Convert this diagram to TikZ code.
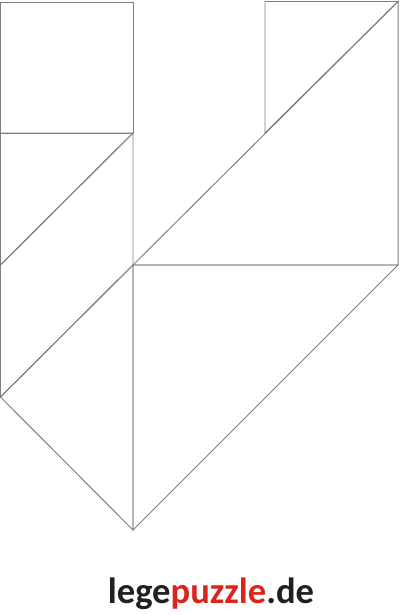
\documentclass[tikz,border=0pt]{standalone}
\usepackage{fontspec}
\setmainfont{Carlito}
\usepackage{xcolor}
\usepackage{tikz}
\definecolor{lineGray}{HTML}{7F7F7F}
\definecolor{logoDark}{HTML}{231F20}
\definecolor{logoRed}{HTML}{D8261E}
\begin{document}
\begin{tikzpicture}[x=0.025cm,y=-0.025cm]
			\tikzstyle{piece} = [draw=lineGray, line width=0.7pt, line join=miter]
			\tikzstyle{logo} = [font=\bfseries\fontsize{26}{26}\selectfont, inner sep=0pt, anchor=base]
			\useasboundingbox (0,0) rectangle (400,615);
			
			\coordinate (sqTL) at (0.5,2);
			\coordinate (sqTR) at (133,2);
			\coordinate (sqBR) at (133,133);
			\coordinate (sqBL) at (0.5,133);
			\coordinate (leftMid) at (0.5,265);
			\coordinate (midJoin) at (133,265);
			\coordinate (leftLow) at (0.5,397);
			\coordinate (tip) at (133,530);
			\coordinate (rightLow) at (398,265);
			\coordinate (rightTop) at (398,1.5);
			\coordinate (smallTop) at (265,1.5);
			\coordinate (smallBot) at (265,133);
			
			\draw[piece] (sqTL) -- (sqTR) -- (sqBR) -- (sqBL) -- cycle;
			\draw[piece] (sqBL) -- (sqBR) -- (leftMid) -- cycle;
			\draw[piece] (sqBR) -- (midJoin) -- (leftLow) -- (leftMid) -- cycle;
			\draw[piece] (leftLow) -- (midJoin) -- (tip) -- cycle;
			\draw[piece] (midJoin) -- (rightLow) -- (tip) -- cycle;
			\draw[piece] (smallTop) -- (rightTop) -- (smallBot) -- cycle;
			\draw[piece] (rightTop) -- (rightLow) -- (midJoin) -- cycle;
			
			\node[logo](brand) at (211,603) {\textcolor{logoDark}{lege}\textcolor{logoRed}{puzzle}\textcolor{logoDark}{.de}};
			
			\end{tikzpicture}
\end{document}
